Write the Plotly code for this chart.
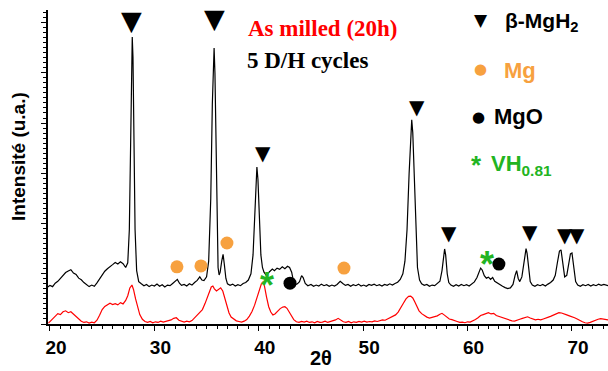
import plotly.graph_objects as go

# ---------------- data ----------------
two_theta_cycled = [
    19.8, 20.0, 20.25, 20.5, 20.75, 21.0, 21.25, 21.5, 21.75, 22.0,
    22.25, 22.5, 22.75, 23.0, 23.25, 23.5, 23.75, 24.0, 24.25, 24.5,
    24.75, 25.0, 25.25, 25.5, 25.75, 26.0, 26.25, 26.5, 26.75, 27.0,
    27.25, 27.45, 27.6, 27.7, 27.8, 27.88, 27.95, 28.05, 28.15, 28.3,
    28.5, 28.75, 29.0, 29.25, 29.5, 29.75, 30.0, 30.25, 30.5, 30.75,
    31.0, 31.25, 31.5, 31.75, 32.0, 32.2, 32.4, 32.6, 32.85, 33.1,
    33.35, 33.6, 33.85, 34.1, 34.35, 34.55, 34.75, 35.0, 35.2, 35.4,
    35.55, 35.65, 35.72, 35.8, 35.9, 36.0, 36.1, 36.2, 36.3, 36.45,
    36.58, 36.7, 36.85, 37.0, 37.25, 37.5, 37.75, 38.0, 38.25, 38.5,
    38.75, 39.0, 39.25, 39.45, 39.6, 39.72, 39.82, 39.92, 40.05, 40.2,
    40.35, 40.5, 40.7, 40.9, 41.1, 41.3, 41.5, 41.75, 42.0, 42.25,
    42.5, 42.75, 42.95, 43.15, 43.3, 43.5, 43.7, 43.9, 44.1, 44.25,
    44.45, 44.7, 45.0, 45.25, 45.5, 45.75, 46.0, 46.25, 46.5, 46.75,
    47.0, 47.25, 47.5, 47.8, 48.05, 48.3, 48.55, 48.8, 49.05, 49.3,
    49.55, 49.8, 50.05, 50.3, 50.55, 50.8, 51.05, 51.3, 51.55, 51.8,
    52.05, 52.3, 52.55, 52.8, 53.05, 53.3, 53.55, 53.8, 54.0, 54.2,
    54.4, 54.55, 54.65, 54.75, 54.9, 55.05, 55.2, 55.4, 55.6, 55.85,
    56.1, 56.35, 56.6, 56.85, 57.1, 57.35, 57.55, 57.7, 57.8, 57.9,
    58.05, 58.2, 58.4, 58.65, 58.9, 59.15, 59.4, 59.65, 59.9, 60.15,
    60.4, 60.65, 60.9, 61.1, 61.25, 61.4, 61.6, 61.8, 62.0, 62.2,
    62.4, 62.6, 62.85, 63.1, 63.35, 63.6, 63.85, 64.1, 64.35, 64.55,
    64.7, 64.85, 65.0, 65.2, 65.35, 65.5, 65.6, 65.7, 65.85, 66.0,
    66.2, 66.45, 66.7, 66.95, 67.2, 67.45, 67.7, 67.95, 68.2, 68.4,
    68.6, 68.8, 68.95, 69.1, 69.3, 69.5, 69.7, 69.85, 70.0, 70.15,
    70.35, 70.55, 70.8, 71.05, 71.3, 71.55, 71.8, 72.05, 72.3, 72.55,
    72.8, 73.05, 73.45,
]
intensity_cycled = [
    11.8, 12.3, 11.9, 13.0, 13.6, 14.5, 15.2, 16.4, 16.9, 17.3,
    16.2, 15.8, 14.6, 14.1, 13.2, 12.6, 11.9, 12.4, 12.0, 13.1,
    14.4, 15.7, 16.8, 17.6, 18.4, 18.9, 19.6, 19.1, 19.8, 19.2,
    18.0, 19.5, 30.0, 55.0, 82.0, 91.4, 85.0, 55.0, 30.0, 17.0,
    13.5, 12.8, 12.2, 12.6, 11.9, 12.4, 12.1, 12.7, 12.0, 12.5,
    11.8, 12.4, 12.2, 12.9, 13.8, 14.2, 13.0, 12.3, 12.6, 12.1,
    12.8, 12.4, 13.2, 13.9, 15.0, 14.0, 13.8, 15.0, 20.0, 40.0,
    70.0, 85.0, 87.9, 80.0, 55.0, 30.0, 18.0, 15.6, 16.5, 20.0,
    22.2, 19.0, 14.5, 12.8, 12.3, 12.7, 12.1, 12.5, 12.2, 12.9,
    13.2, 14.0, 16.0, 22.0, 33.0, 44.0, 50.0, 46.0, 32.0, 22.0,
    18.0, 16.5, 15.6, 16.2, 16.8, 17.5, 17.0, 17.8, 17.4, 18.2,
    17.6, 18.4, 18.0, 16.5, 14.0, 12.5, 12.8, 13.5, 15.4, 14.8,
    12.9, 12.2, 12.6, 12.0, 12.4, 12.1, 12.7, 12.2, 12.5, 12.0,
    12.4, 12.1, 12.6, 13.6, 12.9, 12.3, 12.6, 12.0, 12.5, 12.2,
    12.7, 12.1, 12.4, 12.0, 12.6, 12.3, 12.7, 12.2, 12.5, 12.1,
    12.6, 12.3, 12.8, 12.4, 12.9, 13.3, 14.2, 16.0, 20.0, 30.0,
    48.0, 60.0, 65.0, 61.0, 45.0, 28.0, 18.0, 14.0, 12.8, 12.3,
    12.6, 12.0, 12.4, 12.2, 12.8, 13.6, 17.0, 22.0, 23.9, 22.0,
    16.0, 13.2, 12.4, 12.0, 12.5, 12.1, 12.6, 12.2, 12.5, 12.1,
    12.7, 13.4, 14.8, 16.5, 17.8, 17.2, 15.4, 14.6, 14.9, 14.2,
    14.8, 13.6, 13.0, 12.4, 12.0, 11.6, 11.3, 11.5, 12.6, 15.5,
    17.0, 14.5, 13.5, 15.0, 19.0, 23.0, 24.0, 22.5, 17.0, 13.5,
    12.4, 12.0, 12.5, 12.2, 12.6, 12.1, 12.7, 13.2, 14.0, 15.5,
    19.5, 23.2, 23.6, 20.0, 15.0, 15.5, 19.5, 22.3, 22.6, 19.0,
    13.5, 12.4, 12.0, 12.5, 12.2, 12.6, 12.1, 12.5, 12.2, 12.7,
    12.3, 12.6, 12.2,
]

two_theta_milled = [
    19.85, 20.0, 20.25, 20.5, 20.75, 21.0, 21.25, 21.5, 21.75, 22.0,
    22.25, 22.5, 22.75, 23.0, 23.25, 23.5, 23.75, 24.0, 24.25, 24.5,
    24.75, 25.0, 25.25, 25.5, 25.75, 26.0, 26.25, 26.5, 26.75, 27.0,
    27.25, 27.45, 27.65, 27.85, 28.0, 28.2, 28.4, 28.6, 28.85, 29.1,
    29.35, 29.6, 29.85, 30.1, 30.35, 30.6, 30.85, 31.1, 31.35, 31.6,
    31.85, 32.1, 32.35, 32.6, 32.85, 33.1, 33.35, 33.6, 33.85, 34.1,
    34.35, 34.6, 34.85, 35.05, 35.25, 35.45, 35.6, 35.75, 35.95, 36.15,
    36.35, 36.55, 36.75, 36.95, 37.15, 37.35, 37.6, 37.85, 38.1, 38.35,
    38.6, 38.85, 39.1, 39.35, 39.6, 39.85, 40.05, 40.25, 40.4, 40.55,
    40.75, 40.95, 41.15, 41.35, 41.55, 41.8, 42.05, 42.3, 42.5, 42.7,
    42.9, 43.1, 43.35, 43.6, 43.85, 44.1, 44.35, 44.6, 44.85, 45.1,
    45.35, 45.6, 45.85, 46.1, 46.35, 46.6, 46.85, 47.1, 47.35, 47.6,
    47.85, 48.1, 48.35, 48.6, 48.85, 49.1, 49.35, 49.6, 49.85, 50.1,
    50.35, 50.6, 50.85, 51.1, 51.35, 51.6, 51.85, 52.1, 52.35, 52.6,
    52.85, 53.1, 53.35, 53.6, 53.85, 54.1, 54.35, 54.55, 54.75, 54.95,
    55.15, 55.35, 55.6, 55.85, 56.1, 56.35, 56.6, 56.85, 57.1, 57.35,
    57.55, 57.75, 58.0, 58.25, 58.5, 58.75, 59.0, 59.25, 59.5, 59.75,
    60.0, 60.25, 60.5, 60.75, 61.0, 61.25, 61.5, 61.75, 62.0, 62.25,
    62.5, 62.75, 63.0, 63.25, 63.5, 63.75, 64.0, 64.25, 64.5, 64.75,
    65.0, 65.25, 65.5, 65.75, 66.0, 66.25, 66.5, 66.75, 67.0, 67.25,
    67.5, 67.75, 68.0, 68.25, 68.5, 68.75, 69.0, 69.25, 69.5, 69.75,
    70.0, 70.25, 70.5, 70.75, 71.0, 71.25, 71.5, 71.75, 72.0, 72.25,
    72.5, 72.75, 73.0, 73.45,
]
intensity_milled = [
    0.3, 0.8, 1.9, 2.6, 3.3, 3.0, 3.9, 4.2, 3.6, 3.9,
    3.1, 2.4, 1.7, 0.9, 0.5, 0.7, 0.3, 0.6, 0.4, 1.2,
    2.8, 4.6, 5.6, 6.0, 6.6, 6.2, 6.5, 6.1, 6.8, 6.4,
    7.5, 9.0, 11.5, 12.4, 11.0, 8.0, 5.0, 3.0, 1.5, 0.8,
    0.5, 0.8, 0.4, 0.7, 0.5, 0.9, 0.6, 0.8, 1.2, 1.3,
    1.8, 2.0, 1.2, 0.8, 0.6, 0.9, 0.7, 1.1, 2.0, 3.0,
    3.6, 4.6, 6.5, 8.5, 10.5, 11.8, 12.1, 11.2, 10.5, 11.0,
    11.5, 10.5, 8.0, 5.5, 3.5, 2.2, 1.5, 1.0, 0.8, 0.6,
    0.9, 1.4, 2.5, 4.0, 6.0, 8.5, 11.0, 12.8, 13.4, 12.0,
    8.5, 5.5, 3.8, 2.9, 3.2, 4.2, 4.9, 5.4, 5.5, 5.0,
    3.8, 2.5, 1.4, 0.7, 0.5, 0.8, 0.6, 0.9, 0.5, 0.7,
    0.4, 0.8, 0.5, 0.6, 0.9, 0.5, 0.7, 0.9, 1.3, 1.8,
    1.1, 0.7, 0.5, 0.8, 0.4, 0.7, 0.5, 0.8, 0.6, 0.9,
    0.6, 0.8, 0.7, 1.0, 0.8, 1.1, 1.3, 1.2, 1.6, 1.9,
    2.4, 2.9, 3.8, 5.0, 6.6, 8.0, 8.8, 8.9, 8.3, 7.0,
    5.4, 4.2, 3.3, 2.6, 2.2, 1.9, 2.1, 2.4, 2.6, 3.1,
    3.4, 2.9, 2.2, 1.6, 1.4, 1.0, 0.8, 0.5, 0.6, 0.4,
    0.7, 0.6, 0.9, 1.4, 2.0, 2.7, 3.0, 3.3, 3.6, 3.2,
    3.4, 2.7, 2.4, 2.1, 1.8, 1.4, 1.2, 1.0, 0.9, 1.1,
    1.5, 1.8, 2.1, 2.3, 1.9, 1.6, 1.3, 1.5, 1.3, 1.6,
    1.8, 2.2, 2.5, 2.9, 3.2, 3.6, 3.5, 3.1, 2.9, 2.6,
    2.4, 2.0, 1.6, 1.1, 0.7, 0.4, 0.3, 0.5, 0.9, 1.2,
    1.5, 1.7, 1.5, 1.3,
]

# phase markers (2theta, height in the same arbitrary units)
mgh2_theta = [27.85, 35.8, 40.43, 55.2, 58.2, 66.0, 69.3, 70.5]
mgh2_height = [96.5, 97.3, 54.6, 69.1, 29.0, 29.3, 28.3, 28.3]
mg_theta = [32.16, 34.46, 36.95, 48.16]
mg_height = [18.2, 18.5, 25.8, 17.8]
mgo_theta = [42.99, 63.0]
mgo_height = [13.0, 19.1]
vh_theta = [40.79, 61.86]
vh_height = [15.6, 22.0]

x_ticks = [20, 30, 40, 50, 60, 70]
x_tick_labels = ["20", "30", "40", "50", "60", "70"]

# ---------------- styles ----------------
RED = "#FF0000"
ORANGE = "#F7A13F"
GREEN = "#22B422"
SANS = "Liberation Sans"
SERIF = "Liberation Serif"
tri_font_sizes = [27, 27, 20, 20, 20, 20, 20, 20]

L, T, W, H = 48, 10, 608, 371
PW, PH = W - L, 324 - T


def px(xp):
    return (xp - L) / PW


def py(yp):
    return (324 - yp) / PH


fig = go.Figure()
fig.add_trace(go.Scatter(x=two_theta_milled, y=intensity_milled, mode="lines",
                         line=dict(color=RED, width=1.2), hoverinfo="skip"))
fig.add_trace(go.Scatter(x=two_theta_cycled, y=intensity_cycled, mode="lines",
                         line=dict(color="black", width=1.2), hoverinfo="skip"))
fig.add_trace(go.Scatter(x=mg_theta, y=mg_height, mode="markers",
                         marker=dict(color=ORANGE, size=13, line=dict(width=0))))
fig.add_trace(go.Scatter(x=mgo_theta, y=mgo_height, mode="markers",
                         marker=dict(color="black", size=13, line=dict(width=0))))

for xv, yv, fs in zip(mgh2_theta, mgh2_height, tri_font_sizes):
    fig.add_annotation(x=xv, y=yv, xref="x", yref="y", text="▼", showarrow=False,
                       font=dict(family="DejaVu Sans", size=fs, color="black"),
                       xanchor="center", yanchor="middle")
for xv, yv in zip(vh_theta, vh_height):
    fig.add_annotation(x=xv, y=yv, xref="x", yref="y", text="<b>*</b>", showarrow=False,
                       font=dict(family=SANS, size=36, color=GREEN),
                       xanchor="center", yanchor="middle", yshift=-10)


def label(text, xp, yp, size, color="black", family=SANS, xanchor="left", angle=0):
    fig.add_annotation(x=px(xp), y=py(yp), xref="paper", yref="paper", text=text,
                       showarrow=False, xanchor=xanchor, yanchor="middle",
                       textangle=angle,
                       font=dict(family=family, size=size, color=color))


label("<b>As milled (20h)</b>", 246, 29, 23, RED, SERIF)
label("<b>5 D/H cycles</b>", 245, 61, 23, "black", SERIF)

label("▼", 481, 20, 17, "black", "DejaVu Sans", "center")
label("<b>β-MgH<sub>2</sub></b>", 503, 22, 21)
label("●", 480, 69, 15, ORANGE, "DejaVu Sans", "center")
label("<b>Mg</b>", 502, 71, 22, ORANGE)
label("●", 478, 117, 15, "black", "DejaVu Sans", "center")
label("<b>MgO</b>", 492, 116, 22)
label("<b>*</b>", 476, 165, 26, GREEN, SANS, "center")
label("<b>VH<sub>0.81</sub></b>", 489, 165, 22, GREEN)

label("<b>2θ</b>", 321, 358, 20, "black", SANS, "center")
label("<b>Intensité (u.a.)</b>", 18, 157, 19, "black", SANS, "center", -90)

fig.update_layout(
    width=W, height=H, margin=dict(l=L, r=0, t=T, b=H - 324),
    paper_bgcolor="white", plot_bgcolor="white", showlegend=False,
    xaxis=dict(range=[19.81, 73.45], showline=True, linecolor="black", linewidth=1.5,
               ticks="outside", ticklen=5, tickwidth=1.2, tickcolor="black",
               tickvals=x_ticks, ticktext=x_tick_labels, ticklabelshift=6,
               tickfont=dict(family=SANS, size=19, color="black", weight="bold"),
               minor=dict(ticks="outside", dtick=1, ticklen=3, tickcolor="black", tickwidth=1),
               showgrid=False, zeroline=False),
    yaxis=dict(range=[0, 100], showline=True, linecolor="black", linewidth=1.5,
               ticks="outside", ticklen=5, tickwidth=1.2, tickcolor="black", dtick=16,
               showticklabels=False,
               minor=dict(ticks="outside", dtick=1.6, ticklen=3, tickcolor="black", tickwidth=1),
               showgrid=False, zeroline=False),
)

fig.write_html("out.html")
